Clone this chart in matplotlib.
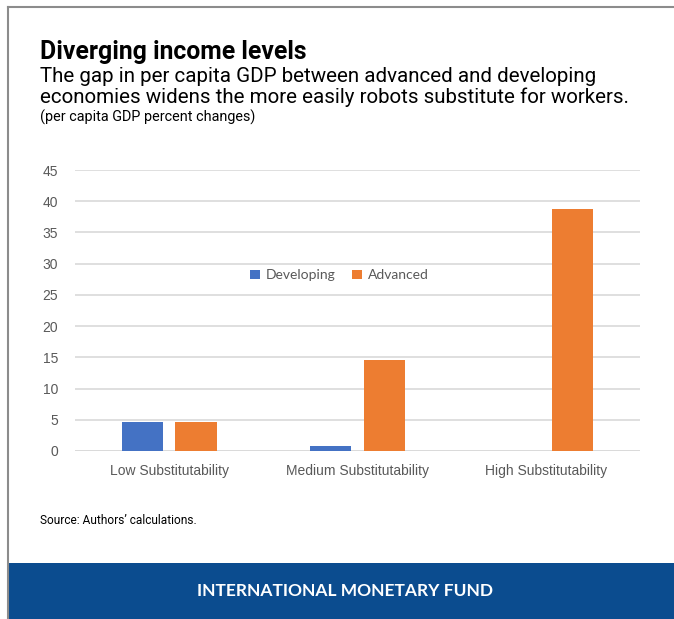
import matplotlib.pyplot as plt
import numpy as np
from matplotlib.patches import Rectangle
from matplotlib.lines import Line2D

categories = ['Low Substitutability', 'Medium Substitutability', 'High Substitutability']
developing = [4.7, 0.8, 0.0]
advanced = [4.7, 14.5, 38.8]
yticks = [0, 5, 10, 15, 20, 25, 30, 35, 40, 45]

blue = '#4472C4'
orange = '#ED7D31'
tick_col = '#595959'

fig = plt.figure(figsize=(6.74, 6.19), dpi=100)
W, H = 674, 619

# frame lines and bottom banner
fig.add_artist(Line2D([8 / W, 8 / W], [0, 1 - 7 / H], color='#8c8c8c', lw=1.5))
fig.add_artist(Line2D([8 / W, 1], [1 - 7 / H, 1 - 7 / H], color='#8c8c8c', lw=1.5))
fig.add_artist(Rectangle((9 / W, 0), 1, 56 / H, color='#0B4C8F', lw=0))
fig.text(345 / W, 1 - 591 / H, 'INTERNATIONAL MONETARY FUND', color='white',
         fontsize=12.5, fontweight='bold', family='Lato', ha='center', va='center')

# titles
fig.text(40 / W, 1 - 52 / H, 'Diverging income levels', fontsize=17.8,
         fontweight='bold', family='Roboto', va='center')
fig.text(40 / W, 1 - 77 / H, 'The gap in per capita GDP between advanced and developing',
         fontsize=14.8, family='Roboto', va='center')
fig.text(40 / W, 1 - 97 / H, 'economies widens the more easily robots substitute for workers.',
         fontsize=14.8, family='Roboto', va='center')
fig.text(40 / W, 1 - 117 / H, '(per capita GDP percent changes)',
         fontsize=10.4, family='Roboto', va='center')
fig.text(40 / W, 1 - 520 / H, 'Source: Authors\u2019 calculations.',
         fontsize=8.6, family='Roboto', va='center')

ax = fig.add_axes([75 / W, 1 - 451 / H, 565 / W, 281 / H])
x = np.arange(len(categories))
w = 0.22
ax.bar(x - 0.142, developing, w, color=blue, label='Developing', zorder=3)
ax.bar(x + 0.142, advanced, w, color=orange, label='Advanced', zorder=3)

ax.set_xlim(-0.5, 2.5)
ax.set_ylim(0, 45)
ax.set_yticks(yticks)
ax.set_xticks(x)
ax.set_xticklabels(categories)
ax.grid(axis='y', color='#d9d9d9', lw=1.2, zorder=0)
for s in ax.spines.values():
    s.set_visible(False)
ax.tick_params(length=0, colors=tick_col, labelsize=10, pad=12)
ax.tick_params(axis='x', pad=9)
for lab in ax.get_xticklabels() + ax.get_yticklabels():
    lab.set_family('Liberation Sans')
ax.axhline(0, color='#d9d9d9', lw=1.2, zorder=1)

leg = ax.legend(loc='center', bbox_to_anchor=(0.468, 0.625), ncol=2, frameon=False,
                handlelength=0.7, handleheight=0.7, handletextpad=0.4, columnspacing=1.2,
                prop={'family': 'Lato', 'size': 10})
for t in leg.get_texts():
    t.set_color(tick_col)

fig.savefig('out.png', dpi=100)
